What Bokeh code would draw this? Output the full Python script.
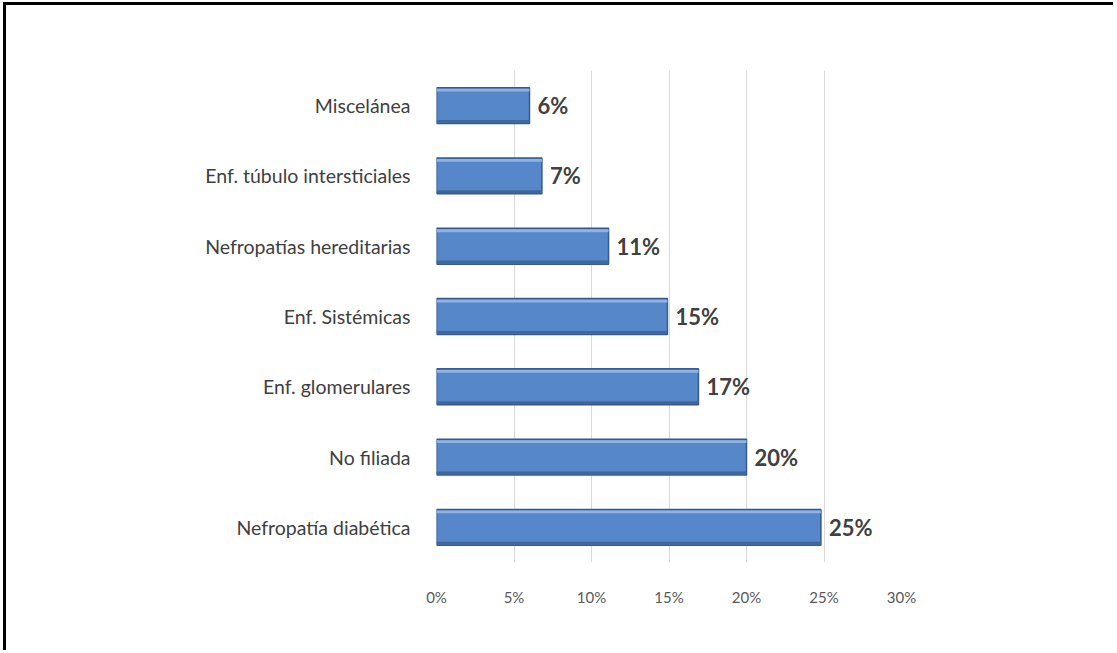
from bokeh.plotting import figure
from bokeh.models import ColumnDataSource, FactorRange, NumeralTickFormatter, FixedTicker
from bokeh.transform import dodge
from bokeh.core.properties import value
from bokeh.embed import file_html
from bokeh.resources import INLINE

categories = ["Nefropatía diabética", "No filiada", "Enf. glomerulares", "Enf. Sistémicas",
              "Nefropatías hereditarias", "Enf. túbulo intersticiales", "Miscelánea"]
values = [0.248, 0.200, 0.169, 0.149, 0.111, 0.068, 0.060]
value_labels = ["25%", "20%", "17%", "15%", "11%", "7%", "6%"]
x_ticks = [0, 0.05, 0.10, 0.15, 0.20, 0.25, 0.30]

FONT = "Lato"

src = ColumnDataSource(dict(cat=categories, val=values, lab=value_labels,
                            zero=[0] * len(values)))

p = figure(width=1110, height=648, output_backend="svg", toolbar_location=None,
           y_range=FactorRange(factors=categories), x_range=(0, 0.30),
           min_border_left=430, min_border_right=215, min_border_top=65, min_border_bottom=91)
p.margin = (2, 0, 0, 3)
p.styles = {"border-top": "3px solid #000000", "border-left": "3px solid #000000"}
p.outline_line_color = None
p.background_fill_color = "white"
p.border_fill_color = "white"

# grid
p.ygrid.grid_line_color = None
p.xgrid.grid_line_color = "#d9d9d9"
p.xgrid.grid_line_width = 1
p.xaxis.ticker = FixedTicker(ticks=x_ticks)
p.xaxis.formatter = NumeralTickFormatter(format="0%")

for ax in (p.xaxis, p.yaxis):
    ax.axis_line_color = None
    ax.major_tick_line_color = None
    ax.minor_tick_line_color = None

p.xaxis.major_label_text_font = FONT
p.xaxis.major_label_text_font_size = "15px"
p.xaxis.major_label_text_color = "#595959"
p.xaxis.major_label_standoff = 19

p.yaxis.major_label_text_font = FONT
p.yaxis.major_label_text_font_size = "19.5px"
p.yaxis.major_label_text_color = "#404040"
p.yaxis.major_label_standoff = 20

BAR_H = 0.51
# main bars
p.hbar(y="cat", left="zero", right="val", height=BAR_H, source=src,
       fill_color="#5687c8", line_color="#34598a", line_width=1.5)
# bevel highlight (top) and shadow (bottom)
p.hbar(y=dodge("cat", BAR_H / 2 - 0.035, range=p.y_range), left="zero", right="val",
       height=0.04, source=src, fill_color="#8eb3e4", line_color=None)
p.hbar(y=dodge("cat", -BAR_H / 2 + 0.03, range=p.y_range), left="zero", right="val",
       height=0.04, source=src, fill_color="#3f679c", line_color=None)

p.text(x="val", y="cat", text="lab", source=src, x_offset=8,
       text_font=value(FONT), text_font_style="bold", text_font_size="22px",
       text_color="#404040", text_baseline="middle", text_align="left")

open("out.html", "w").write(file_html(p, INLINE))
